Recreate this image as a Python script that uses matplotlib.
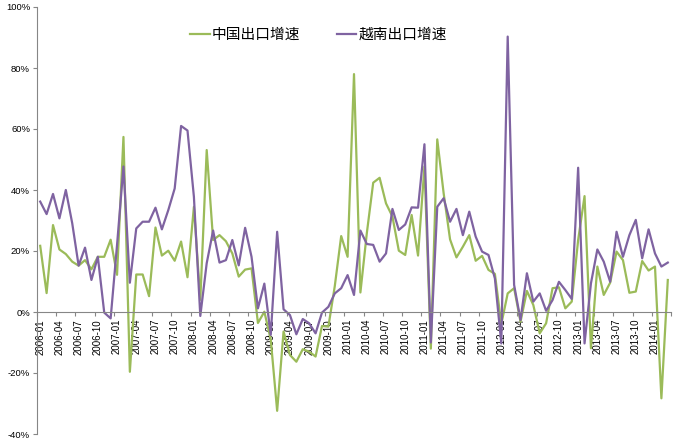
import matplotlib
matplotlib.use('Agg')
import matplotlib.pyplot as plt
import numpy as np

# monthly export growth (%), 2006-01 .. 2014-03
months = [f"{y}-{m:02d}" for y in range(2006, 2015) for m in range(1, 13)][:99]

china = [
    21.7, 6.2, 28.5, 20.5, 19.0, 16.5, 15.2, 17.0, 14.0, 18.1,
    18.1, 23.7, 12.2, 57.4, -19.6, 12.3, 12.3, 5.2, 27.7, 18.5,
    20.1, 16.8, 23.1, 11.4, 34.5, 4.0, 53.1, 23.6, 25.2, 23.2,
    19.2, 11.6, 13.9, 14.3, -3.6, 0.1, -9.0, -32.4, -6.4, -14.1,
    -16.3, -12.2, -13.0, -14.6, -4.6, -4.8, 8.5, 24.9, 18.1, 78.0,
    6.4, 25.8, 42.4, 44.0, 35.6, 31.3, 20.1, 18.7, 31.8, 18.5,
    47.7, -12.0, 56.6, 38.9, 23.8, 17.9, 21.4, 25.2, 16.8, 18.4,
    13.8, 12.5, -4.0, 6.1, 7.8, -3.2, 6.9, 2.3, -7.0, -3.7,
    7.8, 8.1, 1.2, 3.4, 23.6, 38.0, -11.9, 14.9, 5.6, 9.6,
    19.8, 17.0, 6.3, 6.7, 16.7, 13.6, 14.9, -28.3, 10.5,
]

vietnam = [
    36.2, 32.1, 38.7, 30.7, 40.0, 29.1, 15.2, 21.1, 10.5, 18.1,
    -0.2, -2.1, 22.0, 47.7, 9.6, 27.4, 29.6, 29.6, 34.2, 27.1,
    33.4, 40.5, 61.0, 59.5, 37.8, -1.3, 16.0, 26.7, 16.2, 17.0,
    23.6, 15.3, 27.6, 18.1, 1.2, 9.3, -7.5, 26.3, 0.9, -1.0,
    -7.3, -2.3, -3.7, -7.0, -0.2, 1.7, 6.1, 7.8, 12.1, 5.6,
    26.7, 22.3, 22.0, 16.5, 19.2, 33.8, 26.9, 28.7, 34.3, 34.2,
    55.0, -10.0, 34.5, 37.3, 29.6, 33.8, 25.2, 32.9, 24.7, 19.8,
    18.7, 11.0, -10.3, 90.3, 8.9, -2.6, 12.7, 3.4, 6.1, 0.4,
    3.9, 9.9, 7.2, 4.3, 47.3, -10.3, 9.4, 20.5, 16.5, 9.9,
    26.3, 18.1, 25.2, 30.2, 17.6, 27.1, 19.2, 14.9, 16.2,
]

labels = ['中国出口增速', '越南出口增速']
yticks = [-40, -20, 0, 20, 40, 60, 80, 100]

plt.rcParams['font.family'] = ['Liberation Sans', 'Noto Sans CJK SC', 'DejaVu Sans']

fig = plt.figure(figsize=(6.77, 4.43), dpi=100)
ax = fig.add_axes([37 / 677, 9 / 443, 634 / 677, 427 / 443])

x = np.arange(len(months))
ax.plot(x, china, color='#9BBB59', lw=1.6, label=labels[0])
ax.plot(x, vietnam, color='#7F63A1', lw=1.6, label=labels[1])

ax.set_xlim(-0.5, len(months) - 0.5)
ax.set_ylim(-40, 100)

grey = '#868686'
for s in ['top', 'right']:
    ax.spines[s].set_visible(False)
ax.spines['left'].set_color(grey)
ax.spines['bottom'].set_color(grey)
ax.spines['bottom'].set_position(('data', 0))

ax.set_yticks(yticks)
ax.set_yticklabels([f'{v}%' for v in yticks], fontsize=6.8)
ax.tick_params(axis='y', direction='out', length=3, color=grey, pad=2)

# ticks between categories, labels on the categories
ax.set_xticks(np.arange(-0.5, len(months), 3))
ax.set_xticklabels([])
ax.tick_params(axis='x', which='major', direction='out', length=3, color=grey)
ax.set_xticks(x[::3], minor=True)
ax.set_xticklabels(months[::3], minor=True, rotation=90, fontsize=7)
ax.tick_params(axis='x', which='minor', length=0, pad=5)

ax.legend(loc='center', bbox_to_anchor=(318.7 / 677, 1 - 35 / 443),
          bbox_transform=fig.transFigure, ncol=2, frameon=False,
          prop={'family': ['Noto Sans CJK SC'], 'size': 10.6},
          handlelength=1.3, handletextpad=0.15, columnspacing=2.5)

fig.savefig('out.png', dpi=100)
